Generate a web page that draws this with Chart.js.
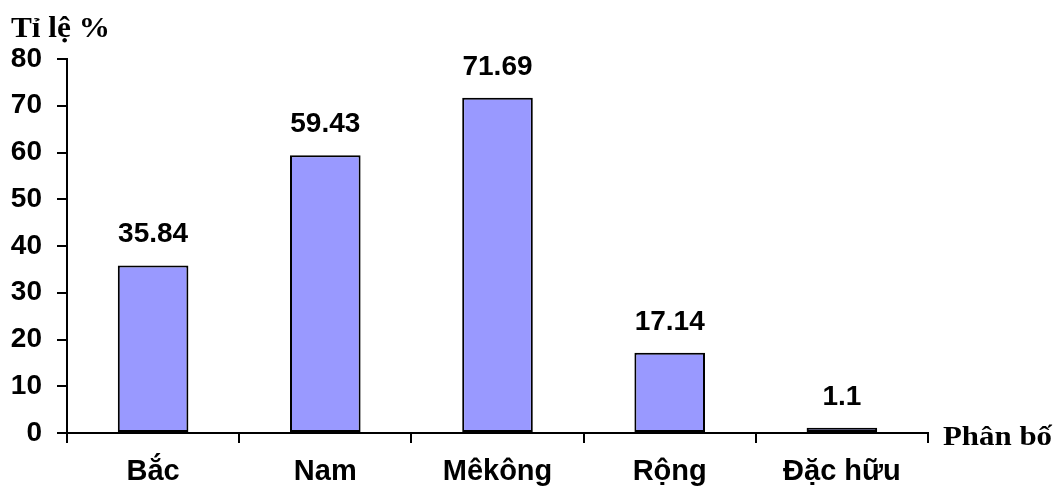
<!DOCTYPE html>
<html>
<head>
<meta charset="utf-8">
<script src="https://cdn.jsdelivr.net/npm/chart.js@4.4.0/dist/chart.umd.min.js"></script>
<style>
  body { margin: 0; background: #fff; }
  canvas { display: block; }
</style>
</head>
<body>
<canvas id="myChart" width="1057" height="492"></canvas>
<script>
// du lieu doc tu hinh
var labels = ['Bắc', 'Nam', 'Mêkông', 'Rộng', 'Đặc hữu'];
var values = [35.84, 59.43, 71.69, 17.14, 1.1];
var yTicks = [0, 10, 20, 30, 40, 50, 60, 70, 80];

var sans = '"Liberation Sans", Arial, sans-serif';
var serif = '"Liberation Serif", "Times New Roman", serif';

/*
* Plugin: ve so lieu tren cot va ten truc (Tỉ lệ %, Phân bố)
*/
var textPlugin = {
  id: 'textPlugin',
  afterDatasetsDraw: function(chart){
    var ctx = chart.ctx;
    var meta = chart.getDatasetMeta(0);
    ctx.save();
    ctx.fillStyle = '#000';
    ctx.font = 'bold 28px ' + sans;
    ctx.textAlign = 'center';
    ctx.textBaseline = 'middle';
    meta.data.forEach(function(bar, i){
      ctx.fillText(String(values[i]), bar.x, bar.y - 31);
    });

    ctx.textAlign = 'left';
    ctx.textBaseline = 'alphabetic';
    ctx.font = 'bold 30px ' + serif;
    drawFit(ctx, 'Tỉ lệ %', 11, 37, 99);
    ctx.font = 'bold 28px ' + serif;
    drawFit(ctx, 'Phân bố', 943, 445, 109);
    ctx.restore();
  }
};

function drawFit(ctx, txt, x, y, w){
  var m = ctx.measureText(txt).width;
  ctx.save();
  ctx.translate(x, y);
  ctx.scale(w / m, 1);
  ctx.fillText(txt, 0, 0);
  ctx.restore();
}

var ctx = document.getElementById('myChart');
var myChart = new Chart(ctx, {
  type: 'bar',
  data: {
    labels: labels,
    datasets: [{
      data: values,
      backgroundColor: '#9999FF',
      borderColor: '#000',
      borderWidth: 2,
      borderSkipped: false,
      barPercentage: 0.41,
      categoryPercentage: 1
    }]
  },
  options: {
    responsive: false,
    animation: false,
    layout: { padding: { left: 0, right: 129, top: 59, bottom: 0 } },
    plugins: {
      legend: { display: false },
      tooltip: { enabled: false }
    },
    scales: {
      x: {
        grid: { display: true, drawOnChartArea: false, offset: true, color: '#000', lineWidth: 2, tickLength: 10 },
        border: { display: true, color: '#000', width: 2 },
        ticks: { color: '#000', font: { family: sans, size: 29, weight: 'bold' }, padding: 12, maxRotation: 0 },
        afterFit: function(scale){ scale.height = 59; }
      },
      y: {
        min: 0,
        max: 80,
        afterBuildTicks: function(scale){
          scale.ticks = yTicks.map(function(v){ return { value: v }; });
        },
        grid: { display: true, drawOnChartArea: false, color: '#000', lineWidth: 2, tickLength: 10 },
        border: { display: true, color: '#000', width: 2 },
        ticks: { color: '#000', font: { family: sans, size: 28, weight: 'bold' }, padding: 15 },
        afterFit: function(scale){ scale.width = 67; }
      }
    }
  },
  plugins: [textPlugin]
});
</script>
</body>
</html>
